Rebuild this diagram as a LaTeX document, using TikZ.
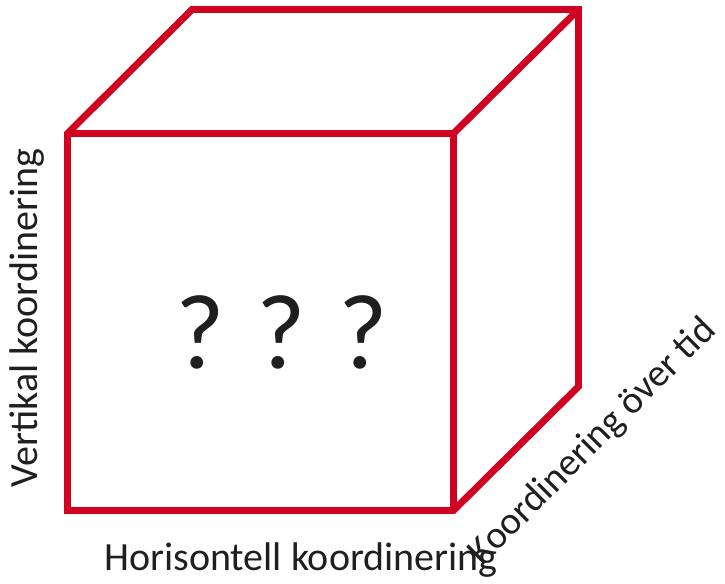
\documentclass[tikz,border=0pt]{standalone}
\usepackage{fontspec}
\setmainfont{Carlito}
\usetikzlibrary{positioning}
\definecolor{cubered}{RGB}{208,2,33}

\begin{document}
\begin{tikzpicture}[x=0.75pt, y=-0.75pt, every node/.style={font=\fontsize{30}{34}\selectfont, text=black!88, inner sep=0pt}]
        \useasboundingbox (0,0) rectangle (725,584);
        % front face and back corners
        \coordinate (ftl) at (67.5,133.5);
        \coordinate (ftr) at (453.5,133.5);
        \coordinate (fbl) at (67.5,510.5);
        \coordinate (fbr) at (453.5,510.5);
        \coordinate (btl) at (192,9.5);
        \coordinate (btr) at (578.5,9.5);
        \coordinate (bbr) at (578.5,386.5);
        \draw[cubered, line width=5.2pt, miter limit=10] (ftl) -- (btl) -- (btr) -- (bbr) -- (fbr) -- (fbl) -- cycle;
        \draw[cubered, line width=5.2pt, miter limit=10] (ftl) -- (ftr) -- (btr);
        \draw[cubered, line width=5.2pt] (ftr) -- (fbr);
        \node[font=\fontsize{80}{88}\selectfont] (q) at (281.5,332) {? ? ?};
        \node[rotate=90] (vert) at (27,318) {Vertikal koordinering};
        \node (hor) at (301,560) {Horisontell koordinering};
        \node[rotate=45, font=\fontsize{29}{33}\selectfont] (tid) at (593,442) {Koordinering över tid};
\end{tikzpicture}
\end{document}
